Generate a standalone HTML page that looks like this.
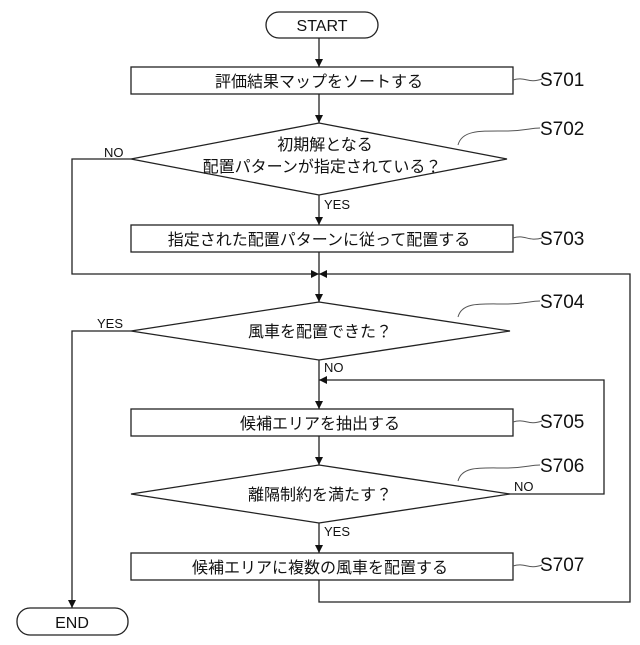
<!DOCTYPE html>
<html><head><meta charset="utf-8"><style>
html,body{margin:0;padding:0;background:#fff}
svg text{font-family:"Liberation Sans","Noto Sans CJK JP",sans-serif;fill:#111}
</style></head><body>
<svg width="640" height="640" viewBox="0 0 640 640" xmlns="http://www.w3.org/2000/svg">
<defs><marker id="a" markerWidth="8" markerHeight="8" refX="8" refY="4" orient="auto" markerUnits="userSpaceOnUse"><path d="M0,0 L8,4 L0,8 Z" fill="#111"/></marker></defs>
<g stroke="#222" stroke-width="1.3" fill="none">
<rect x="266" y="12" width="112" height="26" rx="13" fill="#fff"/>
<rect x="17" y="608" width="111" height="27" rx="13" fill="#fff"/>
<rect x="131" y="67" width="382" height="27"/>
<polygon points="131,159 319,123 507,159 319,195"/>
<rect x="131" y="225" width="382" height="27"/>
<polygon points="131,331 319,302 510,331 319,360"/>
<rect x="131" y="409" width="382" height="27"/>
<polygon points="131,494 319,465 510,494 319,523"/>
<rect x="131" y="553" width="382" height="27"/>
<line x1="319" y1="38" x2="319" y2="67" marker-end="url(#a)"/>
<line x1="319" y1="94" x2="319" y2="123" marker-end="url(#a)"/>
<line x1="319" y1="195" x2="319" y2="225" marker-end="url(#a)"/>
<line x1="319" y1="252" x2="319" y2="302" marker-end="url(#a)"/>
<polyline points="131,159 72,159 72,274 319,274" marker-end="url(#a)"/>
<polyline points="319,580 319,602 630,602 630,274 319,274" marker-end="url(#a)"/>
<polyline points="131,331 72,331 72,608" marker-end="url(#a)"/>
<line x1="319" y1="360" x2="319" y2="409" marker-end="url(#a)"/>
<polyline points="510,494 604,494 604,380 319,380" marker-end="url(#a)"/>
<line x1="319" y1="436" x2="319" y2="465" marker-end="url(#a)"/>
<line x1="319" y1="523" x2="319" y2="553" marker-end="url(#a)"/>
<g stroke="#555" stroke-width="1">
<path d="M513,80 C525,76 528,84 542,79"/>
<path d="M458,145 C462,130 480,131 505,131 C525,131 530,128 540,128"/>
<path d="M513,238 C525,234 528,242 542,238"/>
<path d="M458,317 C462,302 480,304 505,304 C525,304 530,301 540,301"/>
<path d="M513,422 C525,418 528,426 542,421"/>
<path d="M458,481 C462,466 480,468 505,468 C525,468 530,465 540,465"/>
<path d="M513,566 C525,562 528,570 542,565"/>
</g>
</g>
<g font-size="16" text-anchor="middle">
<text x="322" y="31">START</text>
<text x="72" y="628">END</text>
<text x="319" y="87">評価結果マップをソートする</text>
<text x="325" y="150">初期解となる</text>
<text x="322" y="172">配置パターンが指定されている？</text>
<text x="319" y="245">指定された配置パターンに従って配置する</text>
<text x="320" y="337">風車を配置できた？</text>
<text x="320" y="429">候補エリアを抽出する</text>
<text x="320" y="500">離隔制約を満たす？</text>
<text x="320" y="573">候補エリアに複数の風車を配置する</text>
</g>
<g font-size="13">
<text x="104" y="157">NO</text>
<text x="324" y="209">YES</text>
<text x="97" y="328">YES</text>
<text x="324" y="372">NO</text>
<text x="514" y="491">NO</text>
<text x="324" y="536">YES</text>
</g>
<g font-size="19">
<text x="540" y="86">S701</text>
<text x="540" y="135">S702</text>
<text x="540" y="245">S703</text>
<text x="540" y="308">S704</text>
<text x="540" y="428">S705</text>
<text x="540" y="472">S706</text>
<text x="540" y="571">S707</text>
</g>
</svg>
</body></html>
